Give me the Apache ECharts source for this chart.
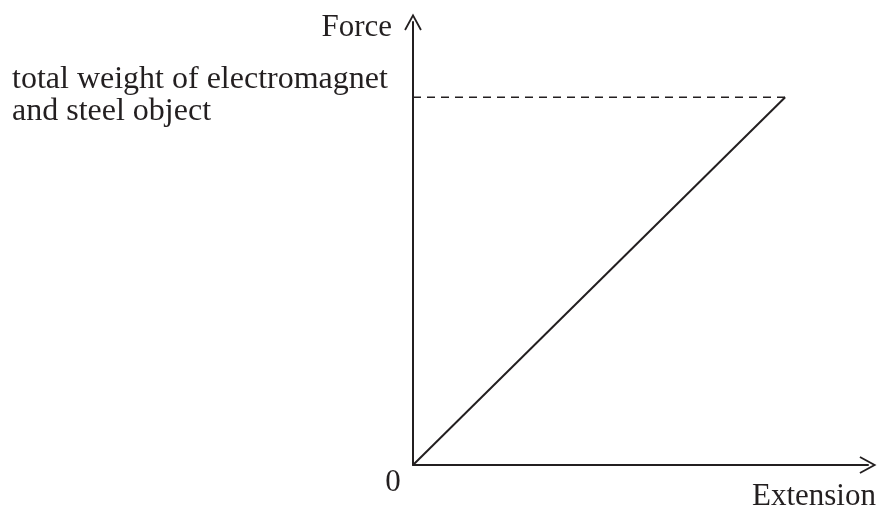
<!DOCTYPE html>
<html>
<head>
<meta charset="utf-8">
<script src="https://cdn.jsdelivr.net/npm/echarts@6/dist/echarts.min.js"></script>
<style>
  html, body { margin: 0; padding: 0; background: #fff; }
  #chart { width: 877px; height: 508px; }
</style>
</head>
<body>
<div id="chart"></div>
<script>
// extension / force values (arbitrary units)
const extension = [0, 8.18];
const force = [0, 8.3];
const weightLevel = 8.3;
const weightLabel = ['total weight of electromagnet', 'and steel object'];

const ink = '#231f20';
const family = '"Liberation Serif", "Times New Roman", serif';

// open chevron used as the axis arrow head
const chevron = 'path://M50 0 L100 92 L91 97 L50 21 L9 97 L0 92 Z';

let lineData = extension.map(function (x, i) { return [x, force[i]]; });
let dashData = [[0, weightLevel], [extension[1], weightLevel]];

function label(text, x, y, align, size) {
  return {
    type: 'text', x: x, y: y,
    style: { text: text, font: (size || 31) + 'px ' + family, fill: ink, textAlign: align, textVerticalAlign: 'middle' }
  };
}

var chart = echarts.init(document.getElementById('chart'));

chart.setOption({
  animation: false,
  grid: { left: 413, top: 22, width: 455, height: 443 },
  xAxis: {
    type: 'value',
    min: 0,
    max: 10,
    axisLine: {
      lineStyle: { color: ink, width: 2 },
      symbol: ['none', chevron],
      symbolSize: [20, 17]
    },
    axisTick: { show: false },
    axisLabel: { show: false },
    splitLine: { show: false }
  },
  yAxis: {
    type: 'value',
    min: 0,
    max: 10,
    axisLine: {
      show: true,
      lineStyle: { color: ink, width: 2 },
      symbol: ['none', chevron],
      symbolSize: [20, 17]
    },
    axisTick: { show: false },
    axisLabel: { show: false },
    splitLine: { show: false }
  },
  series: [
    {
      type: 'line',
      data: lineData,
      symbol: 'none',
      lineStyle: { color: ink, width: 2 }
    },
    {
      type: 'line',
      data: dashData,
      symbol: 'none',
      lineStyle: { color: ink, width: 1.5, type: [8, 6] }
    }
  ],
  graphic: [
    label('Force', 392, 28, 'right'),
    label(weightLabel[0], 12, 80, 'left', 32),
    label(weightLabel[1], 12, 112, 'left', 32),
    label('0', 393, 483, 'center'),
    label('Extension', 752, 497, 'left')
  ]
});
</script>
</body>
</html>
